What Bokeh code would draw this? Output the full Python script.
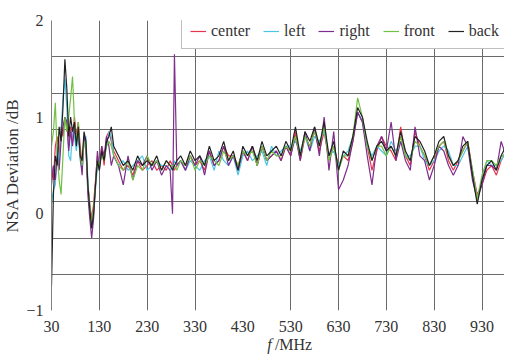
from bokeh.plotting import figure
from bokeh.layouts import column
from bokeh.models import FixedTicker, Legend, LegendItem, Range1d
from bokeh.core.properties import value
from bokeh.embed import file_html
from bokeh.resources import INLINE

freq = [30, 34, 38, 42, 46, 50, 54, 58, 62, 66,
        70, 74, 78, 82, 86, 90, 94, 98, 102, 106,
        110, 114, 118, 122, 126, 130, 135, 140, 145, 150,
        155, 160, 170, 180, 190, 200, 210, 220, 230, 240,
        250, 260, 270, 278, 283, 287, 292, 300, 310, 320,
        330, 340, 350, 360, 370, 380, 390, 400, 410, 420,
        430, 440, 450, 460, 470, 480, 490, 500, 510, 520,
        530, 540, 550, 560, 570, 580, 590, 600, 610, 620,
        630, 640, 650, 660, 670, 680, 690, 700, 710, 720,
        730, 740, 750, 760, 770, 780, 790, 800, 810, 820,
        830, 840, 850, 860, 870, 880, 890, 900, 910, 920,
        930, 940, 950, 960, 970, 980, 990]

center = [0.5, 0.35, 0.7, 0.8, 0.6, 0.9, 0.8, 1.0, 0.95, 0.7,
          0.9, 0.75, 1.0, 0.8, 0.95, 0.7, 0.5, 0.8, 0.65, 0.3,
          0.1, -0.05, 0.1, 0.35, 0.6, 0.5, 0.7, 0.5, 0.8, 0.85,
          0.75, 0.65, 0.55, 0.45, 0.5, 0.4, 0.55, 0.45, 0.5, 0.55,
          0.45, 0.5, 0.45, 0.55, 0.5, 0.45, 0.5, 0.55, 0.45, 0.6,
          0.5, 0.55, 0.45, 0.65, 0.5, 0.55, 0.7, 0.6, 0.6, 0.5,
          0.65, 0.55, 0.7, 0.5, 0.7, 0.55, 0.6, 0.65, 0.55, 0.7,
          0.6, 0.85, 0.55, 0.8, 0.7, 0.85, 0.65, 0.85, 0.55, 0.7,
          0.5, 0.6, 0.55, 0.75, 1.05, 0.95, 0.7, 0.45, 0.65, 0.8,
          0.7, 0.65, 0.55, 0.9, 0.6, 0.5, 0.85, 0.7, 0.6, 0.45,
          0.55, 0.7, 0.75, 0.55, 0.45, 0.55, 0.65, 0.75, 0.45, 0.2,
          0.3, 0.45, 0.5, 0.4, 0.55, 0.65, 0.5]

left = [0.1, 0.25, 0.3, 0.7, 0.5, 0.85, 1.2, 1.4, 1.1, 0.6,
        0.55, 0.9, 0.8, 0.65, 0.85, 0.55, 0.45, 0.75, 0.8, 0.35,
        0.0, -0.1, 0.05, 0.25, 0.5, 0.55, 0.6, 0.6, 0.7, 0.85,
        0.8, 0.6, 0.5, 0.55, 0.45, 0.5, 0.55, 0.6, 0.45, 0.5,
        0.55, 0.5, 0.5, 0.45, 0.5, 0.55, 0.5, 0.55, 0.45, 0.55,
        0.5, 0.45, 0.55, 0.6, 0.45, 0.65, 0.55, 0.5, 0.6, 0.4,
        0.6, 0.65, 0.55, 0.6, 0.65, 0.5, 0.7, 0.6, 0.65, 0.7,
        0.7, 0.75, 0.65, 0.8, 0.65, 0.8, 0.75, 0.85, 0.6, 0.65,
        0.5, 0.6, 0.65, 0.8, 1.05, 0.95, 0.7, 0.6, 0.7, 0.65,
        0.6, 0.75, 0.65, 0.75, 0.6, 0.6, 0.7, 0.7, 0.55, 0.5,
        0.55, 0.65, 0.7, 0.65, 0.5, 0.5, 0.6, 0.7, 0.45, 0.15,
        0.35, 0.55, 0.5, 0.5, 0.55, 0.65, 0.45]

right = [0.3, 0.5, 0.35, 0.6, 0.45, 0.75, 0.9, 1.0, 0.95, 0.65,
         0.85, 0.7, 0.9, 0.75, 0.85, 0.6, 0.4, 0.8, 0.7, 0.2,
         -0.05, -0.25, -0.05, 0.3, 0.65, 0.45, 0.7, 0.6, 0.8, 0.7,
         0.5, 0.6, 0.5, 0.3, 0.6, 0.35, 0.55, 0.5, 0.6, 0.45,
         0.55, 0.4, 0.5, 0.45, 0.0, 1.65, 0.5, 0.55, 0.45, 0.6,
         0.5, 0.6, 0.4, 0.65, 0.5, 0.55, 0.7, 0.5, 0.6, 0.45,
         0.65, 0.55, 0.7, 0.5, 0.7, 0.55, 0.6, 0.65, 0.55, 0.7,
         0.6, 0.8, 0.55, 0.85, 0.65, 0.9, 0.6, 1.0, 0.45, 0.85,
         0.25, 0.35, 0.5, 0.75, 1.05, 0.95, 0.6, 0.3, 0.7, 0.8,
         0.65, 0.95, 0.55, 0.75, 0.55, 0.45, 0.9, 0.6, 0.55, 0.35,
         0.5, 0.7, 0.65, 0.5, 0.4, 0.5, 0.8, 0.7, 0.35, 0.15,
         0.3, 0.5, 0.5, 0.45, 0.75, 0.6, 0.5]

front = [0.7, 0.85, 1.15, 0.6, 0.35, 0.2, 0.6, 1.0, 0.85, 1.0,
         1.2, 1.42, 0.95, 0.75, 0.95, 0.6, 0.5, 0.75, 0.7, 0.3,
         0.1, -0.1, 0.05, 0.3, 0.55, 0.5, 0.6, 0.55, 0.7, 0.75,
         0.7, 0.6, 0.5, 0.45, 0.55, 0.35, 0.5, 0.45, 0.6, 0.5,
         0.55, 0.45, 0.55, 0.5, 0.5, 0.5, 0.45, 0.55, 0.5, 0.6,
         0.45, 0.55, 0.5, 0.6, 0.55, 0.5, 0.65, 0.55, 0.6, 0.5,
         0.65, 0.6, 0.65, 0.5, 0.7, 0.55, 0.65, 0.6, 0.6, 0.7,
         0.65, 0.8, 0.6, 0.8, 0.7, 0.85, 0.7, 0.9, 0.55, 0.7,
         0.45, 0.6, 0.6, 0.8, 1.2, 1.0, 0.7, 0.55, 0.7, 0.7,
         0.6, 0.7, 0.6, 0.8, 0.6, 0.55, 0.75, 0.7, 0.6, 0.5,
         0.6, 0.7, 0.75, 0.6, 0.5, 0.55, 0.65, 0.75, 0.45, 0.15,
         0.4, 0.55, 0.55, 0.5, 0.6, 0.6, 0.4]

back = [-0.75, 0.2, 0.6, 0.5, 0.9, 0.75, 1.1, 1.6, 1.3, 0.8,
        1.0, 0.85, 0.95, 0.7, 0.9, 0.6, 0.55, 0.85, 0.75, 0.3,
        0.05, -0.15, 0.0, 0.3, 0.55, 0.45, 0.65, 0.55, 0.75, 0.8,
        0.9, 0.7, 0.6, 0.5, 0.55, 0.45, 0.6, 0.5, 0.55, 0.5,
        0.6, 0.45, 0.55, 0.5, 0.45, 0.5, 0.55, 0.6, 0.5, 0.65,
        0.55, 0.6, 0.5, 0.7, 0.55, 0.6, 0.75, 0.55, 0.65, 0.45,
        0.7, 0.6, 0.7, 0.55, 0.75, 0.6, 0.65, 0.7, 0.6, 0.75,
        0.65, 0.9, 0.6, 0.85, 0.75, 0.9, 0.7, 0.95, 0.6, 0.75,
        0.45, 0.65, 0.6, 0.8, 1.1, 1.0, 0.75, 0.55, 0.7, 0.75,
        0.65, 0.7, 0.6, 0.85, 0.65, 0.55, 0.8, 0.75, 0.65, 0.5,
        0.6, 0.75, 0.8, 0.6, 0.5, 0.55, 0.7, 0.75, 0.4, 0.1,
        0.35, 0.5, 0.55, 0.45, 0.6, 0.7, 0.55]

series_names = ["center", "left", "right", "front", "back"]
series_values = [center, left, right, front, back]
series_colors = ["#e8334a", "#4cc6e6", "#7e2d8c", "#72c043", "#222222"]

x_ticks = [30, 130, 230, 330, 430, 530, 630, 730, 830, 930]
x_grid = [130, 230, 330, 530, 630, 730, 830, 930]
y_ticks = [-1, 0, 1, 2]
y_grid = [-0.625, -0.25, 0.125, 0.875, 1.25, 1.625]

x_label_parts = ["f", "/MHz"]
x_label_pos = [481, 497]

SERIF = "Liberation Serif"
TXT = "#333333"

p = figure(width=504, height=334, output_backend="svg", toolbar_location=None,
           x_range=Range1d(30, 977), y_range=Range1d(-1, 2),
           min_border_left=40, min_border_right=0, min_border_top=20,
           min_border_bottom=23, background_fill_color="white",
           border_fill_color="white")
p.outline_line_color = None

renderers = []
for name, vals, col in zip(series_names, series_values, series_colors):
    r = p.line(freq, vals, line_color=col, line_width=1.2)
    renderers.append(r)

p.xaxis.ticker = FixedTicker(ticks=x_ticks)
p.xaxis.axis_line_color = None
p.xaxis.major_tick_line_color = None
p.xaxis.minor_tick_line_color = None
p.xaxis.major_label_standoff = 4
p.xaxis.major_label_text_font = SERIF
p.xaxis.major_label_text_font_size = "16px"
p.xaxis.major_label_text_color = TXT

p.yaxis.ticker = FixedTicker(ticks=y_ticks)
p.yaxis.major_label_overrides = {-1: "\u22121", 0: "0", 1: "1", 2: "2"}
p.yaxis.axis_line_color = "#808080"
p.yaxis.major_tick_line_color = None
p.yaxis.minor_tick_line_color = None
p.yaxis.major_label_standoff = 2
p.yaxis.major_label_text_font = SERIF
p.yaxis.major_label_text_font_size = "16px"
p.yaxis.major_label_text_color = TXT
p.yaxis.axis_label = "NSA Deviation /dB"
p.yaxis.axis_label_text_font = SERIF
p.yaxis.axis_label_text_font_style = "normal"
p.yaxis.axis_label_text_font_size = "17px"
p.yaxis.axis_label_text_color = TXT
p.yaxis.axis_label_standoff = 1

p.xgrid.ticker = FixedTicker(ticks=x_grid)
p.ygrid.ticker = FixedTicker(ticks=y_grid)
p.grid.grid_line_color = "#6a6a6a"
p.grid.grid_line_width = 1

legend = Legend(items=[LegendItem(label=n, renderers=[r]) for n, r in zip(series_names, renderers)],
                orientation="horizontal", location=(130, 261),
                label_text_font=SERIF, label_text_font_size="16px",
                label_text_color=TXT,
                glyph_width=16, glyph_height=16, label_standoff=5,
                spacing=13, padding=8, label_height=16, margin=0,
                border_line_color="#808080", border_line_width=1,
                background_fill_color="white", background_fill_alpha=1)
p.add_layout(legend)

# x-axis title strip ("f" italic, "/MHz" upright), sharing the x scale
lab = figure(width=504, height=20, output_backend="svg", toolbar_location=None,
             x_range=p.x_range, y_range=Range1d(0, 1),
             x_axis_location=None, y_axis_location=None,
             min_border_left=40, min_border_right=0, min_border_top=0,
             min_border_bottom=0, background_fill_color="white",
             border_fill_color="white")
lab.outline_line_color = None
lab.grid.visible = False
lab.text(x=[x_label_pos[0]], y=[0.5], text=[x_label_parts[0]],
         text_font=value(SERIF), text_font_style="italic", text_font_size="16px",
         text_color=TXT, text_baseline="middle", text_align="left")
lab.text(x=[x_label_pos[1]], y=[0.5], text=[x_label_parts[1]],
         text_font=value(SERIF), text_font_size="16px",
         text_color=TXT, text_baseline="middle", text_align="left")

layout = column(p, lab, spacing=0)
open("out.html", "w").write(file_html(layout, INLINE))
